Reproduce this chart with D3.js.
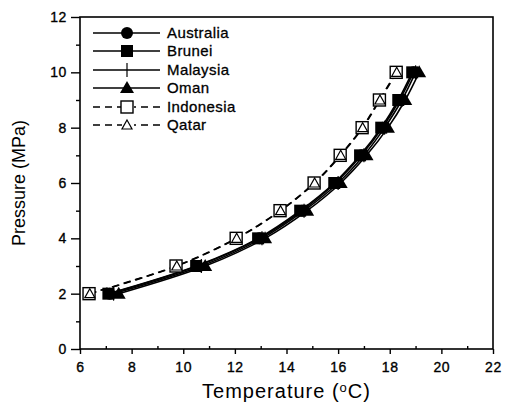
<!DOCTYPE html>
<html>
<head>
<meta charset="utf-8">
<script src="https://cdn.jsdelivr.net/npm/d3@7"></script>
<style>
  html, body { margin: 0; padding: 0; background: #fff; }
  svg { display: block; font-family: "Liberation Sans", Arial, sans-serif; }
</style>
</head>
<body>
<svg id="chart" width="510" height="405"></svg>
<script>
// Hydrate formation pressure vs temperature for six natural gas compositions
const pressures = [2, 3, 4, 5, 6, 7, 8, 9, 10];
const australia = [7.15, 10.55, 12.95, 14.60, 15.90, 16.90, 17.72, 18.38, 18.92];
const brunei    = [7.10, 10.50, 12.90, 14.53, 15.85, 16.85, 17.67, 18.33, 18.87];
const malaysia  = [7.30, 10.70, 13.05, 14.68, 16.00, 17.00, 17.80, 18.47, 19.00];
const oman      = [7.50, 10.85, 13.17, 14.80, 16.10, 17.10, 17.93, 18.60, 19.14];
const indonesia = [6.35, 9.72, 12.05, 13.75, 15.07, 16.08, 16.93, 17.60, 18.25];
const qatar     = [6.38, 9.75, 12.07, 13.77, 15.09, 16.10, 16.95, 17.62, 18.27];

const seriesNames = ["Australia", "Brunei", "Malaysia", "Oman", "Indonesia", "Qatar"];
const xTicks = [6, 8, 10, 12, 14, 16, 18, 20, 22];
const yTicks = [0, 2, 4, 6, 8, 10, 12];

const series = [
  { name: seriesNames[0], temps: australia, marker: "circle",   dashed: false },
  { name: seriesNames[1], temps: brunei,    marker: "square",   dashed: false },
  { name: seriesNames[2], temps: malaysia,  marker: "plus",     dashed: false },
  { name: seriesNames[3], temps: oman,      marker: "triangle", dashed: false },
  { name: seriesNames[4], temps: indonesia, marker: "osquare",  dashed: true },
  { name: seriesNames[5], temps: qatar,     marker: "otriangle",dashed: true }
];

const svg = d3.select("#chart");
const m = { left: 80, right: 17, top: 17, bottom: 56 };
const W = 510, H = 405;

const x = d3.scaleLinear().domain([6, 22]).range([m.left, W - m.right]);
const y = d3.scaleLinear().domain([0, 12]).range([H - m.bottom, m.top]);

// Frame
svg.append("rect")
  .attr("x", x(6)).attr("y", y(12))
  .attr("width", x(22) - x(6)).attr("height", y(0) - y(12))
  .attr("fill", "none").attr("stroke", "#000").attr("stroke-width", 1.6);

function styleTickText(sel) {
  sel.attr("font-size", 14).attr("fill", "#000").attr("letter-spacing", 0.6)
    .attr("stroke", "#000").attr("stroke-width", 0.35)
    .attr("font-family", "Liberation Sans, Arial, sans-serif");
}

// X axis: major ticks outward, minor ticks inward
const gx = svg.append("g").attr("transform", `translate(0,${y(0)})`);
gx.call(d3.axisBottom(x).tickValues(xTicks).tickSize(5).tickPadding(8).tickFormat(d3.format("d")));
gx.append("g").call(d3.axisTop(x).tickValues(d3.range(7, 22, 2)).tickSize(3).tickFormat(""));
gx.selectAll(".domain").remove();
gx.selectAll("line").attr("stroke", "#000").attr("stroke-width", 1.4);
styleTickText(gx.selectAll("text"));

// Y axis: major and minor ticks outward
const gy = svg.append("g").attr("transform", `translate(${x(6)},0)`);
gy.call(d3.axisLeft(y).tickValues(yTicks).tickSize(9).tickPadding(4).tickFormat(d3.format("d")));
gy.append("g").call(d3.axisLeft(y).tickValues(d3.range(1, 12, 2)).tickSize(4).tickFormat(""));
gy.selectAll(".domain").remove();
gy.selectAll("line").attr("stroke", "#000").attr("stroke-width", 1.4);
styleTickText(gy.selectAll("text"));

// Axis titles
const xt = svg.append("text")
  .attr("x", (x(6) + x(22)) / 2).attr("y", 398)
  .attr("text-anchor", "middle").attr("font-size", 20).attr("letter-spacing", 1)
  .attr("fill", "#000");
xt.append("tspan").text("Temperature (");
xt.append("tspan").attr("font-size", 13).attr("dy", -6).text("o");
xt.append("tspan").attr("dy", 6).text("C)");

svg.append("text")
  .attr("transform", `translate(25,${(y(0) + y(12)) / 2}) rotate(-90)`)
  .attr("text-anchor", "middle").attr("font-size", 18).attr("fill", "#000")
  .text("Pressure (MPa)");

// Markers
function drawMarker(g, type, cx, cy) {
  const s = 6;
  if (type === "circle") {
    g.append("circle").attr("cx", cx).attr("cy", cy).attr("r", 6).attr("fill", "#000");
  } else if (type === "square") {
    g.append("rect").attr("x", cx - s).attr("y", cy - s).attr("width", 2 * s).attr("height", 2 * s).attr("fill", "#000");
  } else if (type === "plus") {
    g.append("line").attr("x1", cx).attr("x2", cx).attr("y1", cy - 7).attr("y2", cy + 7)
      .attr("stroke", "#000").attr("stroke-width", 1.2);
  } else if (type === "triangle") {
    g.append("path").attr("d", `M${cx},${cy - 7}L${cx + 7},${cy + 5}L${cx - 7},${cy + 5}Z`).attr("fill", "#000");
  } else if (type === "osquare") {
    g.append("rect").attr("x", cx - s).attr("y", cy - s).attr("width", 2 * s).attr("height", 2 * s)
      .attr("fill", "#fff").attr("stroke", "#000").attr("stroke-width", 1.4);
  } else if (type === "otriangle") {
    g.append("path").attr("d", `M${cx},${cy - 5}L${cx + 5},${cy + 4}L${cx - 5},${cy + 4}Z`)
      .attr("fill", "none").attr("stroke", "#000").attr("stroke-width", 1.2);
  }
}

const line = d3.line().curve(d3.curveCatmullRom.alpha(0.5));

// Curves first, then markers on top
series.forEach(s => {
  const pts = s.temps.map((t, i) => [x(t), y(pressures[i])]);
  svg.append("path").attr("d", line(pts))
    .attr("fill", "none").attr("stroke", "#000").attr("stroke-width", 1.6)
    .attr("stroke-dasharray", s.dashed ? "7,5" : null);
});
const mk = svg.append("g");
series.forEach(s => {
  s.temps.forEach((t, i) => drawMarker(mk, s.marker, x(t), y(pressures[i])));
});

// Legend
const legendRows = [33, 51, 70, 88, 107, 125];
const lg = svg.append("g");
series.forEach((s, i) => {
  const ly = legendRows[i];
  lg.append("line").attr("x1", 93).attr("x2", 160).attr("y1", ly).attr("y2", ly)
    .attr("stroke", "#000").attr("stroke-width", 1.6)
    .attr("stroke-dasharray", s.dashed ? "7,5" : null);
  if (s.marker === "osquare" || s.marker === "otriangle") {
    lg.append("rect").attr("x", 122).attr("y", ly - 6).attr("width", 12).attr("height", 12).attr("fill", "#fff");
  }
  drawMarker(lg, s.marker, 127, ly);
  lg.append("text").attr("x", 167).attr("y", ly + 5).attr("font-size", 15)
    .attr("letter-spacing", 0.4).attr("fill", "#000")
    .attr("stroke", "#000").attr("stroke-width", 0.3)
    .text(s.name);
});
</script>
</body>
</html>
